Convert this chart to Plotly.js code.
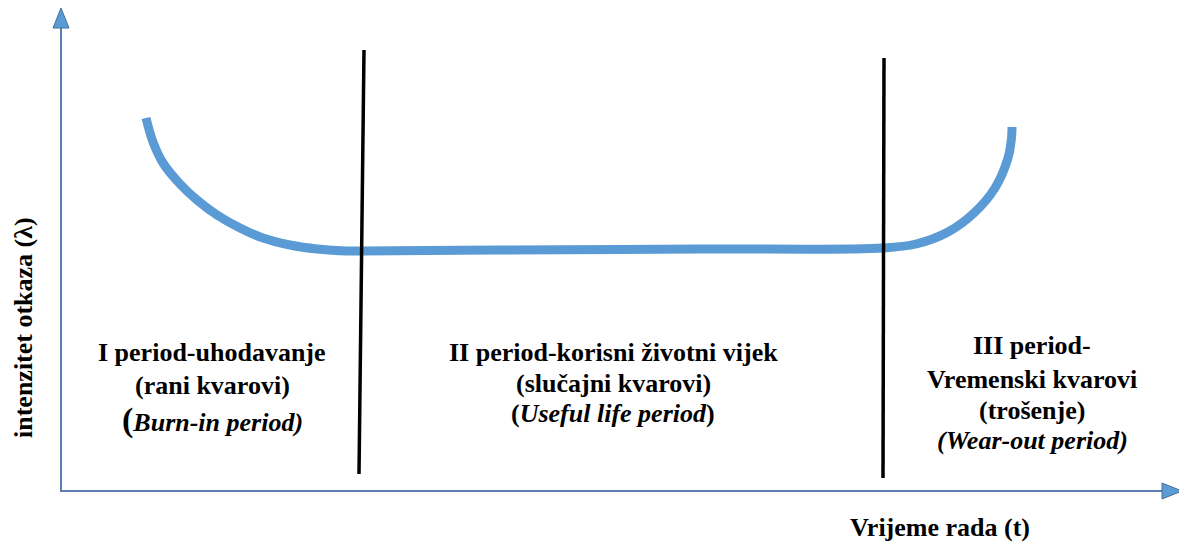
<!DOCTYPE html>
<html>
<head>
<meta charset="utf-8">
<script src="https://cdn.plot.ly/plotly-3.0.1.min.js"></script>
<style>html,body{margin:0;padding:0;background:#fff;}#chart{width:1179px;height:547px;}</style>
</head>
<body>
<div id="chart"></div>
<script>
// Bathtub curve: time (t) vs failure rate (lambda), in drawing units
const curveT      = [146, 153, 163, 180, 197, 217, 240, 263, 290, 317, 347, 363, 500, 700, 883, 916, 948, 974, 995, 1008, 1011.5, 1012];
const curveLambda = [429, 405, 384, 363, 347, 332, 319, 309, 302, 298, 296, 296, 297, 298, 299, 303, 315, 334, 359, 389, 409, 420];

// Period boundaries
const boundary1T = [364, 359], boundary1Lambda = [497, 73];
const boundary2T = [884, 883], boundary2Lambda = [489, 69];

// Axis extents
const axisOriginT = 61, axisOriginLambda = 56;
const axisEndT = 1182, axisEndLambda = 539;

// Period labels
const periodCenters = [212, 613, 1032];
const period1Lines = ['I period-uhodavanje', '(rani kvarovi)', '<span style="font-size:34px">(</span><i>Burn-in period)</i>'];
const period2Lines = ['II period-korisni životni vijek', '(slučajni kvarovi)', '(<i>Useful life period</i>)'];
const period3Lines = ['III period-', 'Vremenski kvarovi', '(trošenje)', '<i>(Wear-out period)</i>'];
const period1Levels = [195, 162, 127];
const period2Levels = [195, 164, 134];
const period3Levels = [202, 168, 137, 107];

const xTitle = 'Vrijeme rada (t)';
const yTitle = 'intenzitet otkaza (λ)';

const FONT = {family: 'Liberation Serif', size: 26, color: '#000'};

const traces = [
  {x: curveT, y: curveLambda, mode: 'lines', line: {color: '#5b9bd5', width: 9, shape: 'spline', smoothing: 1}, hoverinfo: 'skip'},
  {x: boundary1T, y: boundary1Lambda, mode: 'lines', line: {color: '#000', width: 3.5}, hoverinfo: 'skip'},
  {x: boundary2T, y: boundary2Lambda, mode: 'lines', line: {color: '#000', width: 3.5}, hoverinfo: 'skip'}
];

const annotations = [];
function addLines(lines, levels, cx) {
  lines.forEach((txt, i) => annotations.push({
    x: cx, y: levels[i], xref: 'x', yref: 'y', text: '<b>' + txt + '</b>',
    showarrow: false, font: FONT, xanchor: 'center', yanchor: 'middle'
  }));
}
addLines(period1Lines, period1Levels, periodCenters[0]);
addLines(period2Lines, period2Levels, periodCenters[1]);
addLines(period3Lines, period3Levels, periodCenters[2]);
annotations.push({x: 940, y: 20, xref: 'x', yref: 'y', text: '<b>' + xTitle + '</b>', showarrow: false, font: FONT, xanchor: 'center', yanchor: 'middle'});
annotations.push({x: 23, y: 219, xref: 'x', yref: 'y', text: '<b>' + yTitle + '</b>', showarrow: false, font: FONT, textangle: -90, xanchor: 'center', yanchor: 'middle'});

const axisColor = '#5b7fb3';
const headLen = 20, headHalf = 8;
const shapes = [
  {type: 'line', xref: 'x', yref: 'y', x0: axisOriginT, y0: axisOriginLambda - 1, x1: axisOriginT, y1: axisEndLambda - headLen, line: {color: axisColor, width: 2}},
  {type: 'line', xref: 'x', yref: 'y', x0: axisOriginT - 1, y0: axisOriginLambda, x1: axisEndT - headLen, y1: axisOriginLambda, line: {color: axisColor, width: 2}},
  {type: 'path', xref: 'x', yref: 'y',
   path: `M ${axisOriginT - headHalf} ${axisEndLambda - headLen} L ${axisOriginT + headHalf} ${axisEndLambda - headLen} L ${axisOriginT} ${axisEndLambda} Z`,
   fillcolor: '#5b9bd5', line: {color: '#41719c', width: 1}},
  {type: 'path', xref: 'x', yref: 'y',
   path: `M ${axisEndT - headLen} ${axisOriginLambda - headHalf} L ${axisEndT - headLen} ${axisOriginLambda + headHalf} L ${axisEndT} ${axisOriginLambda} Z`,
   fillcolor: '#5b9bd5', line: {color: '#41719c', width: 1}}
];

const layout = {
  width: 1179, height: 547,
  margin: {l: 0, r: 0, t: 0, b: 0},
  paper_bgcolor: '#fff', plot_bgcolor: '#fff',
  showlegend: false,
  font: {family: 'Liberation Serif'},
  xaxis: {range: [0, 1179], visible: false, fixedrange: true},
  yaxis: {range: [0, 547], visible: false, fixedrange: true},
  annotations: annotations,
  shapes: shapes
};

Plotly.newPlot('chart', traces, layout, {displayModeBar: false, staticPlot: true});
</script>
</body>
</html>
